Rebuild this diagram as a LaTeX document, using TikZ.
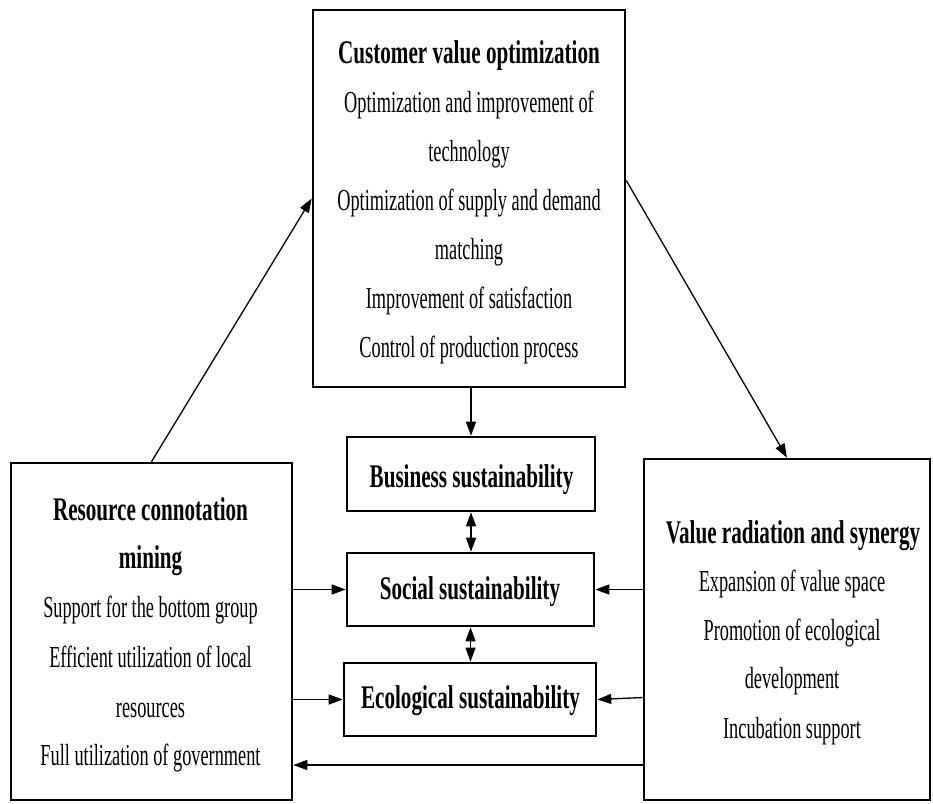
\documentclass[tikz,border=0pt]{standalone}
\usepackage{fontspec}
\setmainfont{Liberation Serif}
\newfontfamily\regf{Liberation Serif}[FakeStretch=0.60]
\newfontfamily\ttlf{Liberation Serif}[FakeStretch=0.64]
\usetikzlibrary{arrows.meta,calc}
\begin{document}
\begin{tikzpicture}[x=1pt,y=-1pt,
  box/.style={draw,line width=2.6pt,inner sep=0pt},
  txt/.style={anchor=base,inner sep=0pt,font=\regf\fontsize{30.5}{30.5}\selectfont},
  ttl/.style={anchor=base,inner sep=0pt,font=\ttlf\fontsize{33}{33}\selectfont\bfseries},
  arr/.style={line width=1.3pt,-{Triangle[length=14pt,width=10pt]}},
  darr/.style={line width=1.3pt,{Triangle[length=14pt,width=10pt]}-{Triangle[length=14pt,width=10pt]}}]
\useasboundingbox (0,0) rectangle (933,803);
% boxes
\node[box,minimum width=312pt,minimum height=377pt] (top) at (469,198.5) {};
\node[box,minimum width=248pt,minimum height=74pt] (bus) at (471,474) {};
\node[box,minimum width=247pt,minimum height=73pt] (soc) at (470.5,589.5) {};
\node[box,minimum width=252pt,minimum height=73pt] (eco) at (470,699.5) {};
\node[box,minimum width=281pt,minimum height=337pt] (lft) at (151.5,631.5) {};
\node[box,minimum width=286pt,minimum height=341pt] (rgt) at (787,629.5) {};
% top box text
\node[ttl] (t0) at (469,63) {Customer value optimization};
\node[txt] (t1) at (469,112) {Optimization and improvement of};
\node[txt] (t2) at (469,161) {technology};
\node[txt] (t3) at (469,210) {Optimization of supply and demand};
\node[txt] (t4) at (469,259) {matching};
\node[txt] (t5) at (469,308) {Improvement of satisfaction};
\node[txt] (t6) at (469,357) {Control of production process};
% middle boxes text
\node[ttl] (b0) at (471.5,487) {Business sustainability};
\node[ttl] (s0) at (470,599) {Social sustainability};
\node[ttl] (e0) at (470.5,708) {Ecological sustainability};
% left box text
\node[ttl] (l0) at (150.5,520) {Resource connotation};
\node[ttl] (l1) at (150.5,568) {mining};
\node[txt] (l2) at (150.5,617) {Support for the bottom group};
\node[txt] (l3) at (150.5,667) {Efficient utilization of local};
\node[txt] (l4) at (150.5,717) {resources};
\node[txt] (l5) at (150.5,765) {Full utilization of government};
% right box text
\node[ttl] (r0) at (793,543) {Value radiation and synergy};
\node[txt] (r1) at (792,591) {Expansion of value space};
\node[txt] (r2) at (792,640) {Promotion of ecological};
\node[txt] (r3) at (792,688) {development};
\node[txt] (r4) at (792,738) {Incubation support};
% connectors
\draw[arr] (top.south -| bus.north) -- (bus.north);
\draw[darr] (bus.south) -- (bus.south |- soc.north);
\draw[darr] (soc.south) -- (soc.south |- eco.north);
\draw[arr] (lft.east |- soc.west) -- (soc.west);
\draw[arr] (lft.east |- eco.west) -- (eco.west);
\draw[arr] (rgt.west |- soc.east) -- (soc.east);
\draw[arr] ([yshift=2pt]rgt.west |- eco.east) -- (eco.east);
\draw[arr] (rgt.west |- l5.base) -- (lft.east |- l5.base);
\draw[arr] (lft.north) -- (top.west);
\draw[arr] ([yshift=18pt]top.east) -- (rgt.north);
\end{tikzpicture}
\end{document}
